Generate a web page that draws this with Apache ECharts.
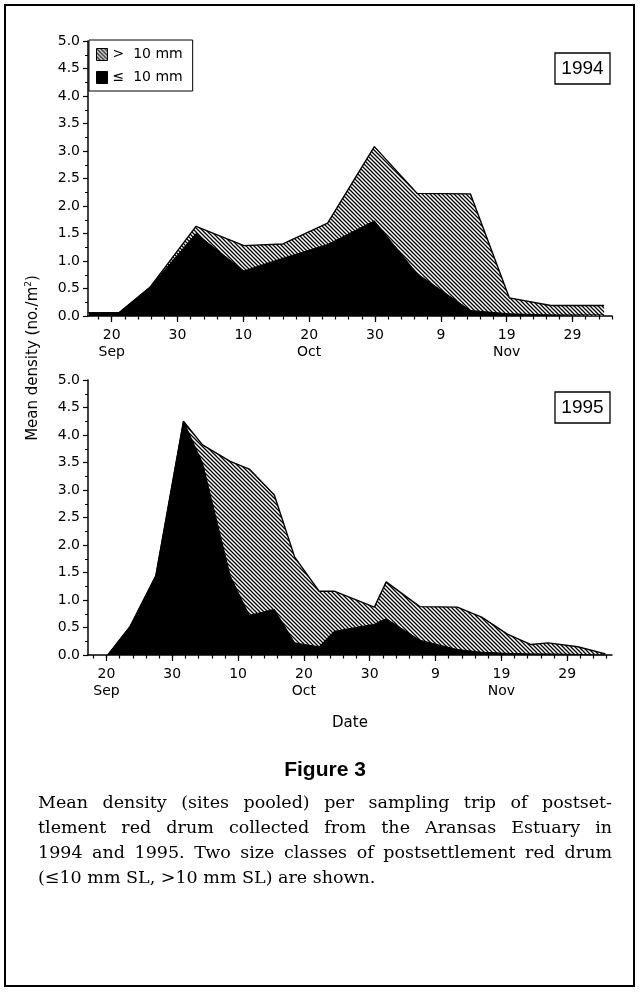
<!DOCTYPE html>
<html>
<head>
<meta charset="utf-8">
<script src="https://cdn.jsdelivr.net/npm/echarts@6/dist/echarts.min.js"></script>
<style>
  html, body { margin: 0; padding: 0; background: #fff; }
  #container { width: 640px; height: 992px; }
</style>
</head>
<body>
<div id="container"></div>
<script>
var dom = document.getElementById("container");
var myChart = echarts.init(dom);

// x = days counted from Aug 31 (Sep 20 = 20, Oct 10 = 40, Nov 9 = 70 ...)
var days94 = [16.5, 21.1, 25.8, 32.8, 40.1, 46.0, 52.8, 59.9, 66.4, 74.5, 80.4, 86.7, 94.8];
var small94 = [0.06, 0.06, 0.52, 1.50, 0.82, 1.05, 1.30, 1.73, 0.77, 0.10, 0.04, 0.02, 0.02];
var large94 = [0, 0, 0, 0.13, 0.46, 0.26, 0.39, 1.35, 1.46, 2.12, 0.29, 0.17, 0.17];

var days95 = [20.2, 23.6, 27.5, 31.7, 34.6, 38.8, 41.7, 45.5, 48.6, 52.3, 54.6, 60.7, 62.5, 67.6, 73.3, 77.0, 80.9, 84.5, 87.1, 91.6, 95.8];
var small95 = [0, 0.52, 1.44, 4.25, 3.49, 1.44, 0.72, 0.83, 0.22, 0.15, 0.43, 0.56, 0.66, 0.27, 0.10, 0.05, 0.03, 0.02, 0.02, 0.01, 0];
var large95 = [0, 0, 0, 0, 0.33, 2.08, 2.66, 2.08, 1.56, 1.01, 0.73, 0.31, 0.67, 0.61, 0.77, 0.64, 0.35, 0.17, 0.20, 0.14, 0.02];

var majorDays = [20, 30, 40, 50, 60, 70, 80, 90];
var majorText = ['20\nSep', '30', '10', '20\nOct', '30', '9', '19\nNov', '29'];
var minorDays = [];
for (var d = 18; d <= 96; d += 2) minorDays.push(d);

var years = ['1994', '1995'];
var seriesNames = ['> 10 mm', '\u2264 10 mm'];

var captionTitle = 'Figure 3';
var captionLines = [
	'Mean density (sites pooled) per sampling trip of postset-',
	'tlement red drum collected from the Aransas Estuary in',
	'1994 and 1995. Two size classes of postsettlement red drum',
	'(\u226410 mm SL, >10 mm SL) are shown.'
];

var sans = 'DejaVu Sans';
var capFont = 'DejaVu Serif';

// hatch pattern
var pc = document.createElement('canvas');
pc.width = 4; pc.height = 4;
var pctx = pc.getContext('2d');
pctx.fillStyle = '#fff';
pctx.fillRect(0, 0, 4, 4);
pctx.strokeStyle = '#000';
pctx.lineWidth = 1.3;
pctx.beginPath();
pctx.moveTo(0, 0); pctx.lineTo(4, 4);
pctx.moveTo(-1, 3); pctx.lineTo(1, 5);
pctx.moveTo(3, -1); pctx.lineTo(5, 1);
pctx.stroke();
var hatch = { image: pc, repeat: 'repeat' };

function pairs(xs, ys) {
	return xs.map(function (x, i) { return [x, ys[i]]; });
}
function sumPairs(xs, a, b) {
	return xs.map(function (x, i) { return [x, +(a[i] + b[i]).toFixed(2)]; });
}

var grids = [
	{ left: 88, right: 28, top: 41, height: 275 },
	{ left: 88, right: 28, top: 380, height: 275 }
];
var xRange = [[16.4, 96], [17.2, 96.8]];

var xAxes = [], yAxes = [], series = [];
[0, 1].forEach(function (g) {
	xAxes.push({
		type: 'value', gridIndex: g, position: 'bottom', min: xRange[g][0], max: xRange[g][1],
		splitLine: { show: false },
		axisLine: { lineStyle: { color: '#000', width: 1.5 } },
		axisTick: { customValues: majorDays, length: 6, lineStyle: { color: '#000', width: 1.2 } },
		axisLabel: {
			customValues: majorDays, margin: 11, color: '#000',
			fontFamily: sans, fontSize: 14, lineHeight: 17,
			formatter: function (v) { return majorText[majorDays.indexOf(Math.round(v))]; }
		}
	});
	xAxes.push({
		type: 'value', gridIndex: g, position: 'bottom', min: xRange[g][0], max: xRange[g][1],
		splitLine: { show: false },
		axisLine: { show: false },
		axisLabel: { show: false },
		axisTick: { customValues: minorDays, length: 3.5, lineStyle: { color: '#000', width: 1.2 } }
	});
	yAxes.push({
		type: 'value', gridIndex: g, min: 0, max: 5, interval: 0.5,
		splitLine: { show: false },
		axisLine: { show: true, lineStyle: { color: '#000', width: 1.5 } },
		axisTick: { show: true, length: 5, lineStyle: { color: '#000', width: 1.2 } },
		minorTick: { show: true, splitNumber: 2, length: 3, lineStyle: { color: '#000', width: 1 } },
		axisLabel: {
			margin: 8, color: '#000', fontFamily: sans, fontSize: 14,
			formatter: function (v) { return v.toFixed(1); }
		}
	});
});

var sets = [[days94, small94, large94], [days95, small95, large95]];
sets.forEach(function (s, g) {
	// total height (both size classes), hatched
	series.push({
		name: seriesNames[0], type: 'line', xAxisIndex: g * 2, yAxisIndex: g,
		data: sumPairs(s[0], s[1], s[2]), symbol: 'none', z: 2,
		lineStyle: { color: '#000', width: 1.4 },
		itemStyle: { color: hatch },
		areaStyle: { color: hatch, opacity: 1 }
	});
	// <= 10 mm, solid black on top
	series.push({
		name: seriesNames[1], type: 'line', xAxisIndex: g * 2, yAxisIndex: g,
		data: pairs(s[0], s[1]), symbol: 'none', z: 3,
		lineStyle: { color: '#000', width: 1 },
		itemStyle: { color: '#000' },
		areaStyle: { color: '#000', opacity: 1 }
	});
});

// caption, justified word by word
var graphics = [];
var mctx = document.createElement('canvas').getContext('2d');
var capSize = 17.5;
mctx.font = capSize + 'px "' + capFont + '"';
var capLeft = 38, capRight = 612, capTop = 803, capStep = 25;
captionLines.forEach(function (line, i) {
	var words = line.split(' ');
	var widths = words.map(function (w) { return mctx.measureText(w).width; });
	var total = widths.reduce(function (a, b) { return a + b; }, 0);
	var last = i === captionLines.length - 1;
	var gap = last ? mctx.measureText(' ').width : (capRight - capLeft - total) / (words.length - 1);
	var x = capLeft;
	words.forEach(function (w, j) {
		graphics.push({
			type: 'text', x: x, y: capTop + i * capStep,
			style: { text: w, fontFamily: capFont, fontSize: capSize, fill: '#000', align: 'left', verticalAlign: 'middle' }
		});
		x += widths[j] + gap;
	});
});

graphics.push({
	type: 'text', x: 325, y: 770,
	style: { text: captionTitle, fontFamily: 'Liberation Sans', fontWeight: 'bold', fontSize: 21, fill: '#000', align: 'center', verticalAlign: 'middle' }
});
graphics.push({
	type: 'text', x: 350, y: 723,
	style: { text: 'Date', fontFamily: sans, fontSize: 15, fill: '#000', align: 'center', verticalAlign: 'middle' }
});
graphics.push({
	type: 'text', x: 33, y: 358, rotation: Math.PI / 2,
	style: {
		text: '{a|Mean density (no./m}{s|2}{a|)}',
		align: 'center', verticalAlign: 'middle',
		rich: {
			a: { fontFamily: sans, fontSize: 15, lineHeight: 18, fill: '#000' },
			s: { fontFamily: sans, fontSize: 9, lineHeight: 18, verticalAlign: 'top', fill: '#000' }
		}
	}
});
[53, 392].forEach(function (top, i) {
	graphics.push({
		type: 'rect', shape: { x: 555, y: top, width: 55, height: 31 },
		style: { fill: '#fff', stroke: '#000', lineWidth: 1.3 }
	});
	graphics.push({
		type: 'text', x: 582.5, y: top + 15.5,
		style: { text: years[i], fontFamily: 'Liberation Sans', fontSize: 19, fill: '#000', align: 'center', verticalAlign: 'middle' }
	});
});
graphics.push({
	type: 'rect', shape: { x: 5, y: 5, width: 629, height: 981 },
	style: { fill: 'none', stroke: '#000', lineWidth: 2 }
});

var option = {
	animation: false,
	backgroundColor: '#fff',
	grid: grids,
	xAxis: xAxes,
	yAxis: yAxes,
	legend: {
		data: seriesNames,
		orient: 'vertical',
		left: 89, top: 40,
		padding: [6, 10, 5, 7],
		itemGap: 6,
		itemWidth: 11, itemHeight: 12,
		icon: 'rect',
		borderColor: '#000', borderWidth: 1,
		backgroundColor: '#fff',
		itemStyle: { borderColor: '#000', borderWidth: 1 },
		textStyle: { fontFamily: sans, fontSize: 14, lineHeight: 17, color: '#000' },
		formatter: function (n) { return n.replace(' ', '  '); },
		selectedMode: false
	},
	series: series,
	graphic: graphics
};
myChart.setOption(option);
</script>
</body>
</html>
